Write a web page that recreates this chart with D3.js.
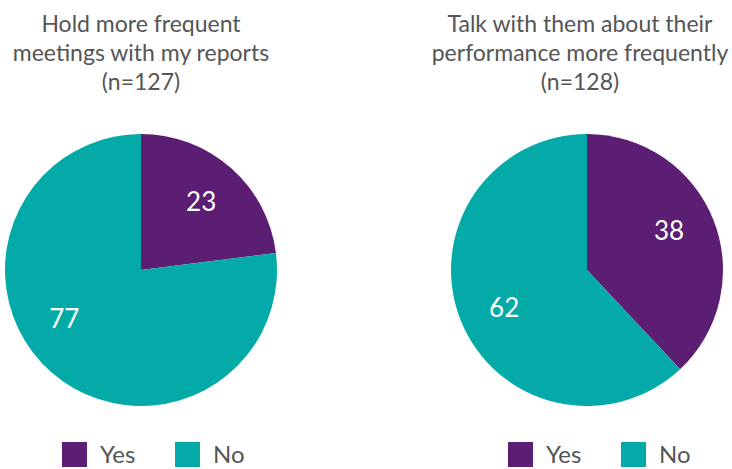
<!DOCTYPE html>
<html>
<head>
<meta charset="utf-8">
<script src="https://cdn.jsdelivr.net/npm/d3@7"></script>
<style>
  html, body { margin: 0; padding: 0; background: #fff; }
  svg { display: block; }
</style>
</head>
<body>
<svg id="chart" width="732" height="469"></svg>
<script>
// Survey answers, one pie per question
const categories = ["Yes", "No"];
const titles = [
  ["Hold more frequent", "meetings with my reports", "(n=127)"],
  ["Talk with them about their", "performance more frequently", "(n=128)"]
];
const valuesHoldMeetings = [23, 77];
const valuesTalkPerformance = [38, 62];
const seriesValues = [valuesHoldMeetings, valuesTalkPerformance];

const colors = d3.scaleOrdinal().domain(categories).range(["#5b1e73", "#04aaa7"]);

const svg = d3.select("#chart");
const font = "Lato, 'Open Sans', sans-serif";
const textGray = "#555555";

const radius = 136;
const centersX = [141, 587];
const titleX = [141, 580];
const centerY = 270;

// small angular nudge for labels shifted by best-fit placement
const labelNudge = [[0, 0.28], [-0.07, -0.05]];
const labelRadius = 91;

const pie = d3.pie().value(d => d.value).sort(null);
const arc = d3.arc().innerRadius(0).outerRadius(radius);

seriesValues.forEach((vals, i) => {
  const g = svg.append("g").attr("transform", `translate(${centersX[i]},${centerY})`);
  const data = pie(categories.map((c, k) => ({ cat: c, value: vals[k] })));

  g.selectAll("path.slice")
    .data(data)
    .join("path")
    .attr("class", "slice")
    .attr("d", arc)
    .attr("fill", d => colors(d.data.cat));

  g.selectAll("text.val")
    .data(data)
    .join("text")
    .attr("class", "val")
    .attr("transform", (d, k) => {
      const a = (d.startAngle + d.endAngle) / 2 + labelNudge[i][k];
      return `translate(${labelRadius * Math.sin(a)},${-labelRadius * Math.cos(a)})`;
    })
    .attr("text-anchor", "middle")
    .attr("dy", "0.36em")
    .attr("fill", "#ffffff")
    .attr("font-family", font)
    .attr("font-size", 26)
    .text(d => d.data.value);

  // title
  const t = svg.append("text")
    .attr("text-anchor", "middle")
    .attr("fill", textGray)
    .attr("font-family", font)
    .attr("font-size", 23);
  titles[i].forEach((line, j) => {
    t.append("tspan").attr("x", titleX[i]).attr("y", 32 + j * 29).text(line);
  });

  // legend
  const legX = [62, 508][i];
  const lg = svg.append("g").attr("transform", `translate(${legX},442)`);
  categories.forEach((c, k) => {
    const item = lg.append("g").attr("transform", `translate(${k * 113},0)`);
    item.append("rect").attr("width", 25).attr("height", 25).attr("fill", colors(c));
    item.append("text")
      .attr("x", 38)
      .attr("y", 21)
      .attr("fill", textGray)
      .attr("font-family", font)
      .attr("font-size", 24)
      .text(c);
  });
});
</script>
</body>
</html>
